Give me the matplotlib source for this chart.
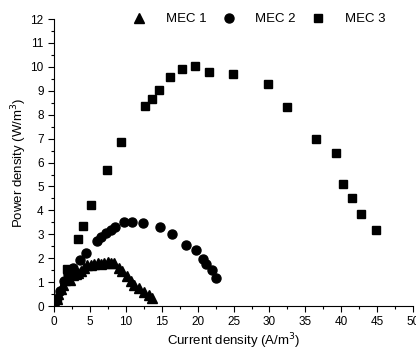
import matplotlib.pyplot as plt
from matplotlib.ticker import MultipleLocator

plt.rcParams['font.family'] = ['Liberation Sans', 'DejaVu Sans']

# MEC 1 (triangles)
mec1_x = [0.2, 0.4, 0.6, 0.9, 1.2, 1.5, 1.8, 2.2, 2.6, 3.0, 3.4, 3.8, 4.2, 4.6,
          5.1, 5.6, 6.1, 6.5, 7.0, 7.5, 7.9, 8.4, 9.0, 9.5, 10.2, 10.7, 11.1,
          11.8, 12.5, 13.2, 13.7]
mec1_y = [0.05, 0.3, 0.5, 0.7, 0.9, 1.1, 1.25, 1.1, 1.3, 1.35, 1.4, 1.45, 1.6, 1.7,
          1.72, 1.75, 1.8, 1.75, 1.82, 1.85, 1.8, 1.78, 1.6, 1.45, 1.25, 1.05, 0.9,
          0.75, 0.6, 0.47, 0.35]

# MEC 2 (circles)
mec2_x = [0.3, 0.8, 1.4, 2.0, 2.7, 3.6, 4.4, 6.0, 6.5, 7.2, 7.9, 8.5, 9.7, 10.8,
          12.4, 14.8, 16.4, 18.4, 19.7, 20.7, 21.2, 22.0, 22.6]
mec2_y = [0.25, 0.65, 1.05, 1.35, 1.6, 1.91, 2.23, 2.73, 2.87, 3.05, 3.19, 3.29,
          3.53, 3.51, 3.47, 3.30, 3.03, 2.55, 2.33, 1.97, 1.74, 1.49, 1.17]

# MEC 3 (squares)
mec3_x = [0.4, 1.8, 3.3, 4.0, 5.2, 7.4, 9.35, 12.6, 13.6, 14.65, 16.2, 17.8, 19.6,
          21.6, 24.9, 29.8, 32.5, 36.5, 39.2, 40.3, 41.5, 42.7, 44.8]
mec3_y = [0.3, 1.55, 2.82, 3.36, 4.22, 5.7, 6.86, 8.35, 8.67, 9.02, 9.58, 9.93, 10.05,
          9.79, 9.69, 9.30, 8.31, 6.97, 6.41, 5.12, 4.52, 3.83, 3.16]

fig = plt.figure(figsize=(4.16, 3.53), dpi=100)
ax = fig.add_axes([0.13, 0.133, 0.863, 0.813])

ax.plot(mec1_x, mec1_y, '^', color='black', markersize=7, label='MEC 1', zorder=4)
ax.plot(mec2_x, mec2_y, 'o', color='black', markersize=6.5, label='MEC 2', zorder=3)
ax.plot(mec3_x, mec3_y, 's', color='black', markersize=5.8, label='MEC 3', zorder=2)

ax.set_xlim(0, 50)
ax.set_ylim(0, 12)
ax.xaxis.set_major_locator(MultipleLocator(5))
ax.xaxis.set_minor_locator(MultipleLocator(2.5))
ax.yaxis.set_major_locator(MultipleLocator(1))
ax.yaxis.set_minor_locator(MultipleLocator(0.5))
ax.spines['top'].set_visible(False)
ax.spines['right'].set_visible(False)
ax.tick_params(which='major', direction='out', length=4, width=0.8, labelsize=8.5)
ax.tick_params(which='minor', direction='out', length=2, width=0.8)

ax.set_xlabel('Current density (A/m$^3$)', fontsize=9.5, labelpad=2)
ax.set_ylabel('Power density (W/m$^3$)', fontsize=9.5, labelpad=1)

ax.legend(loc='center', bbox_to_anchor=(0.565, 1.0), ncol=3, frameon=False,
          fontsize=9.5, handlelength=1.6, handletextpad=1.2, columnspacing=0.9)

fig.savefig('out.png', dpi=100)
